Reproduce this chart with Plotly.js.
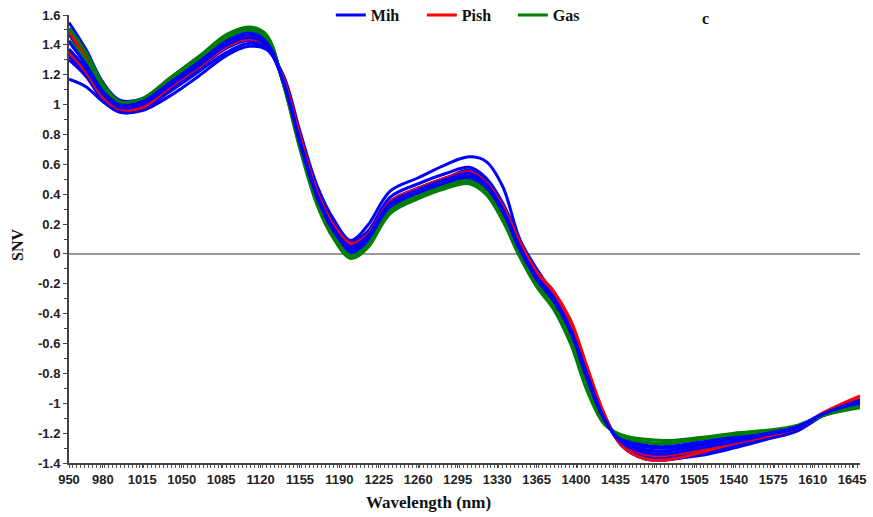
<!DOCTYPE html>
<html>
<head>
<meta charset="utf-8">
<script src="https://cdn.plot.ly/plotly-3.0.1.min.js"></script>
<style>html,body{margin:0;padding:0;background:#fff;}#chart{width:873px;height:517px;}</style>
</head>
<body>
<div id="chart"></div>
<script>
// Wavelengths (nm)
const wavelength = [950, 965, 980, 995, 1015, 1040, 1065, 1090, 1110, 1125, 1140, 1155, 1170, 1185, 1200, 1215, 1235, 1260, 1285, 1305, 1320, 1335, 1350, 1365, 1380, 1395, 1410, 1425, 1440, 1460, 1480, 1510, 1540, 1570, 1595, 1620, 1652];

// Mih (blue) spectra
const mih1 = [1.55, 1.37, 1.15, 1.03, 1.04, 1.18, 1.32, 1.46, 1.51, 1.46, 1.15, 0.72, 0.35, 0.12, -0.02, 0.05, 0.28, 0.38, 0.45, 0.48, 0.41, 0.23, -0.01, -0.21, -0.35, -0.57, -0.89, -1.13, -1.22, -1.26, -1.27, -1.24, -1.21, -1.19, -1.16, -1.08, -1.02];
const mih8 = [1.51, 1.34, 1.13, 1.02, 1.03, 1.17, 1.31, 1.45, 1.50, 1.45, 1.15, 0.72, 0.36, 0.13, -0.01, 0.06, 0.29, 0.39, 0.46, 0.49, 0.42, 0.24, 0.00, -0.20, -0.34, -0.56, -0.88, -1.13, -1.23, -1.28, -1.29, -1.26, -1.22, -1.20, -1.16, -1.08, -1.01];
const mih2 = [1.47, 1.31, 1.12, 1.01, 1.03, 1.16, 1.30, 1.44, 1.49, 1.44, 1.15, 0.73, 0.37, 0.14, 0.01, 0.08, 0.30, 0.40, 0.47, 0.50, 0.43, 0.26, 0.01, -0.19, -0.33, -0.55, -0.86, -1.12, -1.24, -1.29, -1.30, -1.27, -1.23, -1.20, -1.16, -1.08, -1.00];
const mih3 = [1.42, 1.27, 1.09, 1.00, 1.02, 1.15, 1.28, 1.42, 1.47, 1.42, 1.16, 0.74, 0.38, 0.15, 0.03, 0.10, 0.32, 0.41, 0.48, 0.52, 0.45, 0.28, 0.03, -0.17, -0.31, -0.52, -0.84, -1.11, -1.25, -1.31, -1.32, -1.28, -1.24, -1.20, -1.16, -1.07, -0.99];
const mih4 = [1.37, 1.24, 1.07, 0.98, 1.00, 1.13, 1.26, 1.40, 1.45, 1.40, 1.16, 0.76, 0.40, 0.17, 0.05, 0.12, 0.34, 0.43, 0.50, 0.54, 0.47, 0.30, 0.05, -0.15, -0.29, -0.50, -0.81, -1.10, -1.26, -1.33, -1.34, -1.30, -1.26, -1.21, -1.17, -1.07, -0.98];
const mih9 = [1.34, 1.22, 1.06, 0.97, 0.99, 1.12, 1.25, 1.39, 1.44, 1.40, 1.17, 0.77, 0.41, 0.18, 0.06, 0.13, 0.35, 0.44, 0.51, 0.55, 0.48, 0.31, 0.06, -0.15, -0.28, -0.49, -0.80, -1.10, -1.27, -1.34, -1.35, -1.31, -1.27, -1.22, -1.17, -1.07, -0.98];
const mih5 = [1.32, 1.21, 1.05, 0.96, 0.98, 1.11, 1.24, 1.38, 1.43, 1.39, 1.17, 0.77, 0.41, 0.19, 0.07, 0.13, 0.35, 0.44, 0.51, 0.56, 0.49, 0.32, 0.07, -0.14, -0.27, -0.48, -0.79, -1.09, -1.27, -1.35, -1.36, -1.32, -1.27, -1.22, -1.17, -1.07, -0.97];
const mih6 = [1.30, 1.19, 1.03, 0.95, 0.97, 1.09, 1.22, 1.35, 1.41, 1.38, 1.18, 0.79, 0.43, 0.21, 0.08, 0.15, 0.38, 0.47, 0.54, 0.58, 0.51, 0.34, 0.09, -0.12, -0.25, -0.46, -0.77, -1.08, -1.28, -1.37, -1.38, -1.34, -1.29, -1.23, -1.18, -1.07, -0.97];
const mih7 = [1.17, 1.12, 1.02, 0.95, 0.96, 1.06, 1.19, 1.33, 1.39, 1.37, 1.20, 0.82, 0.46, 0.23, 0.09, 0.19, 0.42, 0.51, 0.60, 0.65, 0.62, 0.45, 0.10, -0.10, -0.27, -0.47, -0.78, -1.08, -1.27, -1.35, -1.37, -1.35, -1.30, -1.24, -1.19, -1.08, -0.98];

// Pish (red) spectra
const pish1 = [1.35, 1.22, 1.05, 0.97, 0.98, 1.12, 1.25, 1.39, 1.44, 1.40, 1.18, 0.79, 0.42, 0.19, 0.07, 0.13, 0.35, 0.44, 0.51, 0.55, 0.48, 0.32, 0.08, -0.12, -0.25, -0.44, -0.76, -1.07, -1.28, -1.37, -1.38, -1.33, -1.27, -1.22, -1.17, -1.06, -0.95];
const pish2 = [1.49, 1.31, 1.10, 1.00, 1.01, 1.14, 1.27, 1.41, 1.46, 1.42, 1.16, 0.76, 0.40, 0.17, 0.05, 0.11, 0.33, 0.42, 0.49, 0.54, 0.46, 0.30, 0.05, -0.15, -0.28, -0.48, -0.80, -1.10, -1.26, -1.34, -1.35, -1.31, -1.26, -1.21, -1.17, -1.07, -0.96];

// Gas (green) spectra
const gas1 = [1.51, 1.35, 1.14, 1.02, 1.04, 1.18, 1.32, 1.47, 1.52, 1.47, 1.14, 0.70, 0.33, 0.10, -0.03, 0.04, 0.27, 0.37, 0.44, 0.47, 0.40, 0.22, -0.02, -0.22, -0.37, -0.60, -0.92, -1.14, -1.21, -1.24, -1.25, -1.23, -1.20, -1.18, -1.15, -1.08, -1.03];
const gas2 = [1.43, 1.30, 1.11, 1.01, 1.03, 1.17, 1.31, 1.45, 1.50, 1.45, 1.15, 0.72, 0.35, 0.12, -0.01, 0.06, 0.29, 0.39, 0.46, 0.49, 0.42, 0.24, 0.00, -0.20, -0.35, -0.57, -0.89, -1.13, -1.22, -1.26, -1.27, -1.24, -1.21, -1.19, -1.16, -1.08, -1.02];

const xTickVals = [950, 980, 1015, 1050, 1085, 1120, 1155, 1190, 1225, 1260, 1295, 1330, 1365, 1400, 1435, 1470, 1505, 1540, 1575, 1610, 1645];
const yTickVals = [-1.4, -1.2, -1, -0.8, -0.6, -0.4, -0.2, 0, 0.2, 0.4, 0.6, 0.8, 1, 1.2, 1.4, 1.6];

const groups = [
  {name: 'Mih', color: '#0000FF', series: [mih1, mih8, mih2, mih3, mih4, mih9, mih5, mih6, mih7]},
  {name: 'Pish', color: '#FF0000', series: [pish1, pish2]},
  {name: 'Gas', color: '#008000', series: [gas1, gas2]}
];

const traces = [];
groups.forEach(g => {
  g.series.forEach((s, i) => {
    traces.push({
      x: wavelength, y: s, type: 'scatter', mode: 'lines',
      name: g.name, legendgroup: g.name, showlegend: i === 0,
      line: {color: g.color, width: 3, shape: 'spline', smoothing: 1}
    });
  });
});
// some blue spectra overlaid on top, as in the original band
[mih3, mih4].forEach(s => traces.push({
  x: wavelength, y: s, type: 'scatter', mode: 'lines', name: 'Mih', legendgroup: 'Mih', showlegend: false,
  line: {color: '#0000FF', width: 3, shape: 'spline', smoothing: 1}
}));

const tickFont = {family: 'Liberation Sans, Arial, sans-serif', size: 13, color: '#222', weight: 'bold'};
const serif = 'Liberation Serif, Times New Roman, serif';

const layout = {
  width: 873, height: 517,
  margin: {l: 69, r: 13, t: 15, b: 54, autoexpand: false},
  paper_bgcolor: '#fff', plot_bgcolor: '#fff',
  showlegend: true,
  legend: {orientation: 'h', x: 0.331, y: 1.0, xanchor: 'left', yanchor: 'middle',
           font: {family: serif, size: 16, color: '#111', weight: 'bold'},
           bgcolor: 'rgba(0,0,0,0)', entrywidth: 46, entrywidthmode: 'pixels', tracegroupgap: 0},
  xaxis: {
    range: [950, 1652], tickvals: xTickVals, ticktext: xTickVals.map(String),
    showgrid: false, zeroline: false, showline: true, linecolor: '#444', linewidth: 2,
    ticks: 'outside', ticklen: 3, tickcolor: '#444', tickwidth: 1,
    minor: {tick0: 950, dtick: 3.5, ticks: 'outside', ticklen: 3, tickcolor: '#555', tickwidth: 1, showgrid: false},
    tickfont: tickFont
  },
  yaxis: {
    range: [-1.4, 1.6], tickvals: yTickVals, ticktext: yTickVals.map(v => String(v)),
    showgrid: false, zeroline: true, zerolinecolor: '#999', zerolinewidth: 1.2,
    showline: true, linecolor: '#444', linewidth: 2,
    ticks: 'outside', ticklen: 4, tickcolor: '#444', tickwidth: 1,
    minor: {dtick: 0.1, tick0: 0, ticks: 'outside', ticklen: 3, tickcolor: '#444', tickwidth: 1, showgrid: false},
    tickfont: tickFont
  },
  annotations: [
    {text: 'c', xref: 'paper', yref: 'paper', x: (705 - 69) / 791, y: 0.993, xanchor: 'center', yanchor: 'middle',
     showarrow: false, font: {family: serif, size: 16, color: '#111', weight: 'bold'}},
    {text: 'Wavelength (nm)', xref: 'paper', yref: 'paper', x: (428 - 69) / 791, y: -(502 - 463) / 448, xanchor: 'center', yanchor: 'middle',
     showarrow: false, font: {family: serif, size: 17, color: '#111', weight: 'bold'}},
    {text: 'SNV', xref: 'paper', yref: 'paper', x: -(69 - 17) / 791, y: (463 - 245) / 448, xanchor: 'center', yanchor: 'middle',
     textangle: -90, showarrow: false, font: {family: serif, size: 16, color: '#111', weight: 'bold'}}
  ]
};

Plotly.newPlot('chart', traces, layout, {displayModeBar: false, staticPlot: true});
</script>
</body>
</html>
